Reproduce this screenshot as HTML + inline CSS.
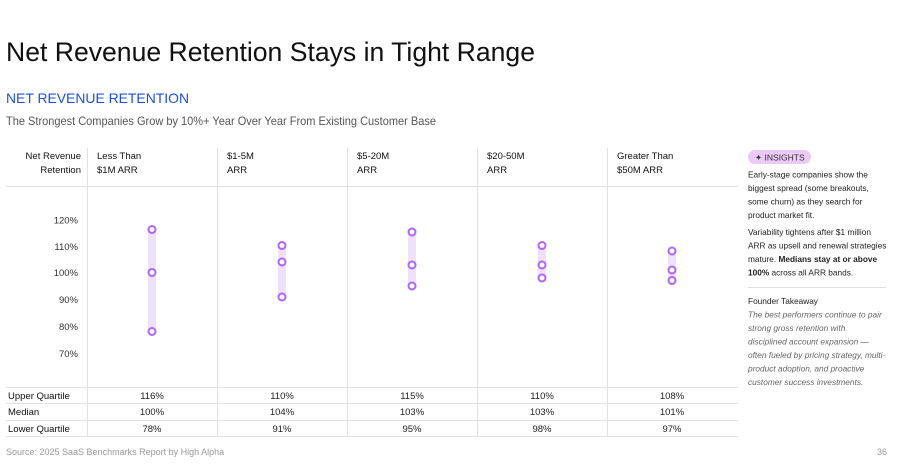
<!DOCTYPE html>
<html><head><meta charset="utf-8"><style>
html,body{margin:0;padding:0;background:#fff;}
svg{display:block;font-family:"Liberation Sans",Arial,sans-serif;}
</style></head><body>
<svg width="903" height="467" viewBox="0 0 903 467" xmlns="http://www.w3.org/2000/svg">
<text x="6" y="61" font-size="27" fill="#111" textLength="529" lengthAdjust="spacingAndGlyphs">Net Revenue Retention Stays in Tight Range</text>
<text x="6" y="103" font-size="14" fill="#1d4fe0" textLength="183" lengthAdjust="spacingAndGlyphs">NET REVENUE RETENTION</text>
<text x="6" y="125" font-size="12" fill="#555" textLength="430" lengthAdjust="spacingAndGlyphs">The Strongest Companies Grow by 10%+ Year Over Year From Existing Customer Base</text>

<g stroke="#e2e2e2" stroke-width="1">
<line x1="87.5" y1="148" x2="87.5" y2="437"/>
<line x1="217.5" y1="148" x2="217.5" y2="437"/>
<line x1="347.5" y1="148" x2="347.5" y2="437"/>
<line x1="477.5" y1="148" x2="477.5" y2="437"/>
<line x1="607.5" y1="148" x2="607.5" y2="437"/>
<line x1="6" y1="186.5" x2="738" y2="186.5"/>
<line x1="6" y1="387.5" x2="738" y2="387.5"/>
<line x1="6" y1="403.5" x2="738" y2="403.5"/>
<line x1="6" y1="420.5" x2="738" y2="420.5"/>
<line x1="6" y1="436.5" x2="738" y2="436.5"/>
</g>

<g font-size="9.5" fill="#111">
<text x="81" y="159" text-anchor="end">Net Revenue</text>
<text x="81" y="173" text-anchor="end">Retention</text>
<text x="97" y="159">Less Than</text><text x="97" y="173">$1M ARR</text>
<text x="227" y="159">$1-5M</text><text x="227" y="173">ARR</text>
<text x="357" y="159">$5-20M</text><text x="357" y="173">ARR</text>
<text x="487" y="159">$20-50M</text><text x="487" y="173">ARR</text>
<text x="617" y="159">Greater Than</text><text x="617" y="173">$50M ARR</text>
</g>

<g font-size="9.5" fill="#333" text-anchor="end">
<text x="78" y="223.5">120%</text>
<text x="78" y="250">110%</text>
<text x="78" y="276">100%</text>
<text x="78" y="303">90%</text>
<text x="78" y="330">80%</text>
<text x="78" y="357">70%</text>
</g>

<g fill="#efe0fc">
<rect x="148" y="229.5" width="8" height="102"/>
<rect x="278" y="245.5" width="8" height="51.5"/>
<rect x="408" y="232" width="8" height="54"/>
<rect x="538" y="245.5" width="8" height="32.5"/>
<rect x="668" y="251" width="8" height="29.5"/>
</g>
<g fill="#fff" stroke="#b264f5" stroke-width="2">
<circle cx="152" cy="229.5" r="3.5"/><circle cx="152" cy="272.5" r="3.5"/><circle cx="152" cy="331.5" r="3.5"/>
<circle cx="282" cy="245.5" r="3.5"/><circle cx="282" cy="262" r="3.5"/><circle cx="282" cy="297" r="3.5"/>
<circle cx="412" cy="232" r="3.5"/><circle cx="412" cy="265" r="3.5"/><circle cx="412" cy="286" r="3.5"/>
<circle cx="542" cy="245.5" r="3.5"/><circle cx="542" cy="265" r="3.5"/><circle cx="542" cy="278" r="3.5"/>
<circle cx="672" cy="251" r="3.5"/><circle cx="672" cy="270" r="3.5"/><circle cx="672" cy="280.5" r="3.5"/>
</g>

<g font-size="9.5" fill="#111">
<text x="8" y="399">Upper Quartile</text>
<text x="8" y="415">Median</text>
<text x="8" y="432">Lower Quartile</text>
</g>
<g font-size="9.5" fill="#222" text-anchor="middle">
<text x="152" y="399">116%</text><text x="282" y="399">110%</text><text x="412" y="399">115%</text><text x="542" y="399">110%</text><text x="672" y="399">108%</text>
<text x="152" y="415">100%</text><text x="282" y="415">104%</text><text x="412" y="415">103%</text><text x="542" y="415">103%</text><text x="672" y="415">101%</text>
<text x="152" y="432">78%</text><text x="282" y="432">91%</text><text x="412" y="432">95%</text><text x="542" y="432">98%</text><text x="672" y="432">97%</text>
</g>

<text x="6" y="455" font-size="9" fill="#999">Source: 2025 SaaS Benchmarks Report by High Alpha</text>
<text x="887" y="455" font-size="9" fill="#999" text-anchor="end">36</text>

<rect x="748" y="150" width="63" height="14" rx="7" fill="#edc9f7"/>
<text x="755" y="160.5" font-size="8.5" fill="#333">✦ INSIGHTS</text>
<g font-size="8.3" fill="#222">
<text x="748" y="177.5">Early-stage companies show the</text>
<text x="748" y="191">biggest spread (some breakouts,</text>
<text x="748" y="204.5">some churn) as they search for</text>
<text x="748" y="218">product market fit.</text>
<text x="748" y="235">Variability tightens after $1 million</text>
<text x="748" y="248.5">ARR as upsell and renewal strategies</text>
<text x="748" y="262">mature. <tspan font-weight="bold">Medians stay at or above</tspan></text>
<text x="748" y="275.5"><tspan font-weight="bold">100%</tspan> across all ARR bands.</text>
<text x="748" y="304">Founder Takeaway</text>
</g>
<line x1="748" y1="287.5" x2="886" y2="287.5" stroke="#ddd"/>
<g font-size="8.3" fill="#666" font-style="italic">
<text x="748" y="317.5">The best performers continue to pair</text>
<text x="748" y="331">strong gross retention with</text>
<text x="748" y="344.5">disciplined account expansion —</text>
<text x="748" y="358">often fueled by pricing strategy, multi-</text>
<text x="748" y="371.5">product adoption, and proactive</text>
<text x="748" y="385">customer success investments.</text>
</g>
</svg>
</body></html>
